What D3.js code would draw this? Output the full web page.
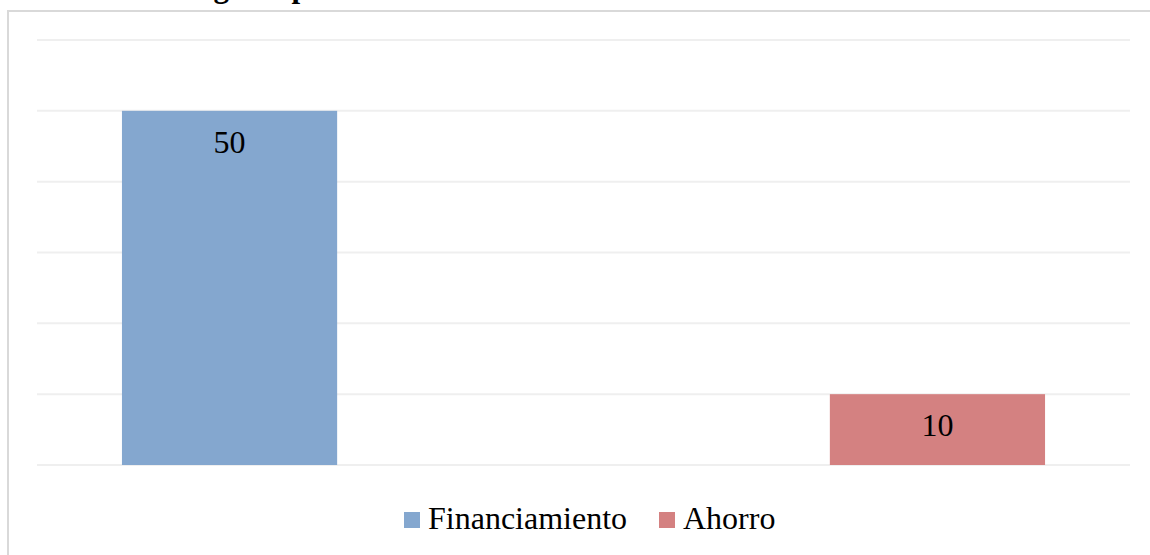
<!DOCTYPE html>
<html>
<head>
<meta charset="utf-8">
<script src="https://cdn.jsdelivr.net/npm/d3@7"></script>
<style>
    body { margin: 0; background: #fff; }
    svg { display: block; font-family: "Liberation Serif", "Times New Roman", serif; }
    .gridLines { stroke: #efefef; stroke-width: 2; }
    .frame { fill: none; stroke: #d9d9d9; stroke-width: 2; }
</style>
</head>
<body>
<script>
// Chart data
var series = ["Financiamiento", "Ahorro"];
var values = [50, 10];
var colors = ["#84a7cf", "#d48181"];
var yTicks = [0, 10, 20, 30, 40, 50, 60];
var title = "Fuente de ingreso para la inversión";

function setChart() {
    // SVG dimensions
    var width = 1150,
        height = 555;

    var svg = d3.select("body")
        .append("svg")
        .attr("width", width)
        .attr("height", height);

    // Plot area
    var plot = { left: 37, right: 1130, top: 40, bottom: 465 };

    // Chart frame (cut off by the picture at right and bottom)
    svg.append("rect")
        .attr("class", "frame")
        .attr("x", 8)
        .attr("y", 11)
        .attr("width", 1160)
        .attr("height", 560);

    // Title, mostly above the visible area (as in the reference)
    svg.append("text")
        .attr("x", 50)
        .attr("y", -3)
        .attr("font-size", 31)
        .attr("font-weight", "bold")
        .attr("fill", "#000")
        .text(title);

    // Scales
    var y = d3.scaleLinear()
        .domain([0, 60])
        .range([plot.bottom, plot.top]);

    var x = d3.scaleBand()
        .domain(series)
        .range([plot.left, plot.right])
        .paddingInner(0.696)
        .paddingOuter(0.12);

    // Horizontal gridlines
    svg.selectAll(".gridLines")
        .data(yTicks)
        .enter()
        .append("line")
        .attr("class", "gridLines")
        .attr("x1", plot.left)
        .attr("x2", plot.right)
        .attr("y1", function(d) { return y(d); })
        .attr("y2", function(d) { return y(d); });

    // Bars
    svg.selectAll(".bar")
        .data(values)
        .enter()
        .append("rect")
        .attr("class", "bar")
        .attr("x", function(d, i) { return x(series[i]); })
        .attr("y", function(d) { return y(d); })
        .attr("width", x.bandwidth())
        .attr("height", function(d) { return y(0) - y(d); })
        .attr("fill", function(d, i) { return colors[i]; });

    // Value labels inside the bars
    svg.selectAll(".barLabel")
        .data(values)
        .enter()
        .append("text")
        .attr("class", "barLabel")
        .attr("x", function(d, i) { return x(series[i]) + x.bandwidth() / 2; })
        .attr("y", function(d) { return y(d) + 42; })
        .attr("text-anchor", "middle")
        .attr("font-size", 32)
        .attr("fill", "#000")
        .text(function(d) { return d; });

    // Legend
    var legendX = [404, 659];
    var legend = svg.selectAll(".legend")
        .data(series)
        .enter()
        .append("g")
        .attr("class", "legend")
        .attr("transform", function(d, i) { return "translate(" + legendX[i] + ",512)"; });

    legend.append("rect")
        .attr("width", 16)
        .attr("height", 16)
        .attr("fill", function(d, i) { return colors[i]; });

    legend.append("text")
        .attr("x", 24)
        .attr("y", 17)
        .attr("font-size", 32)
        .attr("fill", "#000")
        .text(function(d) { return d; });
}

setChart();
</script>
</body>
</html>
